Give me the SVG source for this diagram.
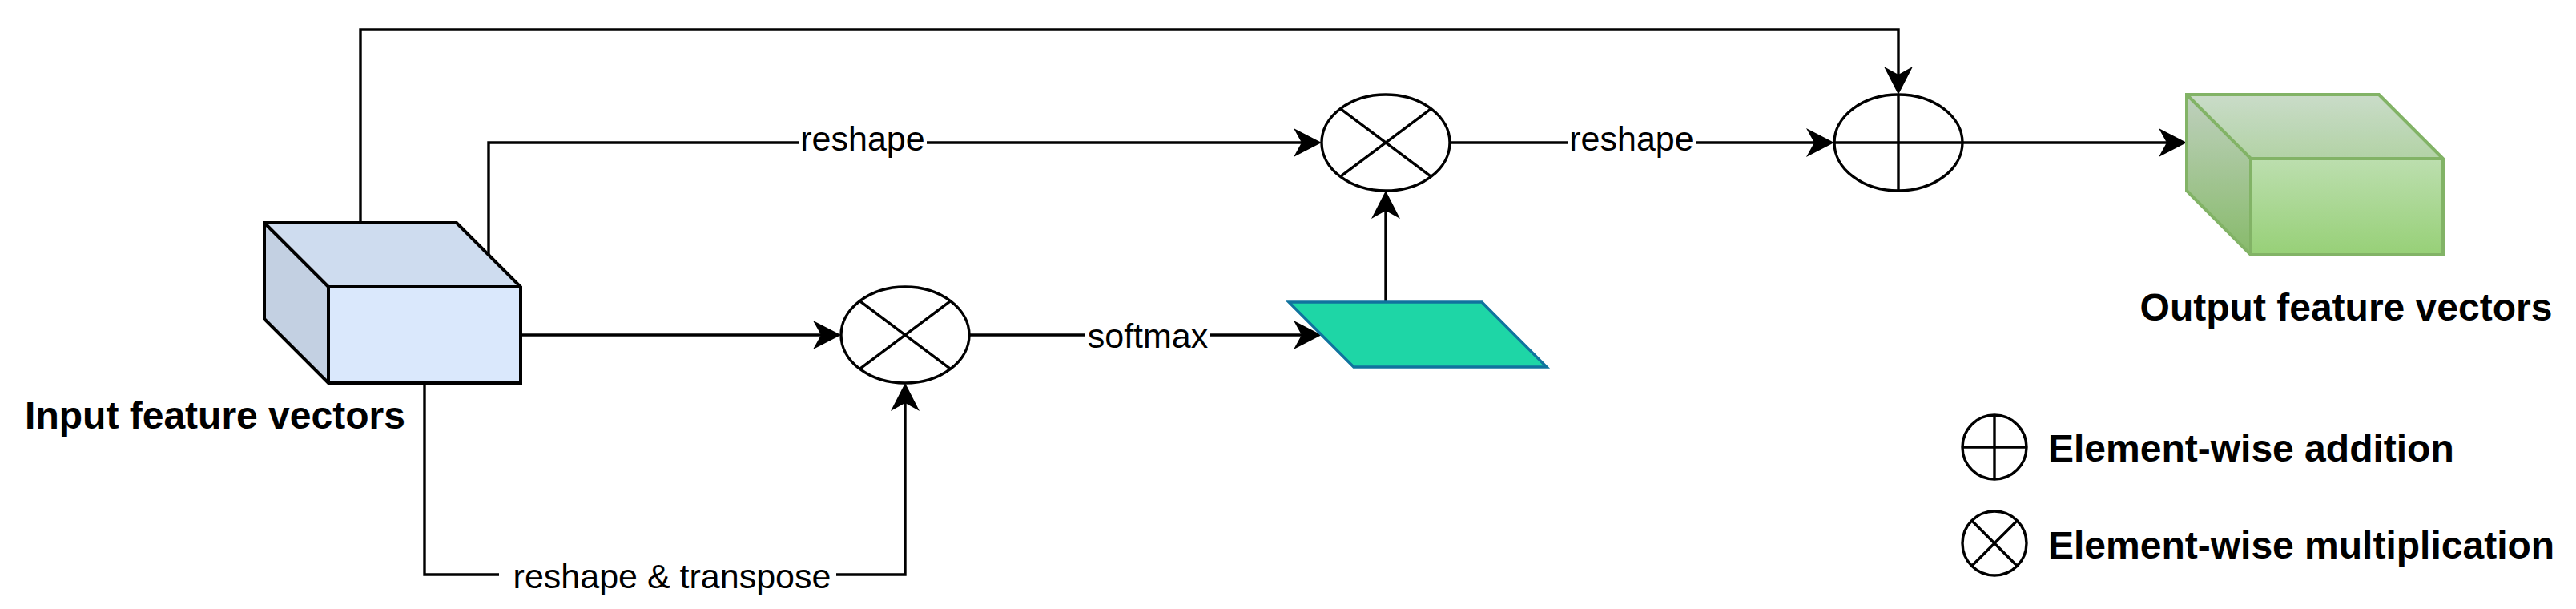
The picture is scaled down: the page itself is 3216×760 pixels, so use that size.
<svg xmlns="http://www.w3.org/2000/svg" width="3216" height="760" viewBox="0 0 3216 760">
<style>
.conn{fill:none;stroke:#000;stroke-width:3.4;marker-end:url(#arr)}
.op{fill:#fff;stroke:#000;stroke-width:3.4}
.opl{fill:none;stroke:#000;stroke-width:3.4}
.lbl{font-family:"Liberation Sans",Arial,Helvetica,sans-serif;font-size:43px;fill:#000;text-anchor:middle}
.bold{font-family:"Liberation Sans",Arial,Helvetica,sans-serif;font-size:48px;font-weight:bold;fill:#000}
.lbg{fill:#fff}
</style>
<defs>
<marker id="arr" markerUnits="userSpaceOnUse" markerWidth="60" markerHeight="60" refX="0" refY="0" orient="auto" overflow="visible">
<path d="M25,0 L-10,-18 L0,0 L-10,18 Z" fill="#000"/>
</marker>
<linearGradient id="grn" gradientUnits="userSpaceOnUse" x1="0" y1="118" x2="0" y2="318">
<stop offset="0" stop-color="#d5e8d4"/>
<stop offset="1" stop-color="#97d077"/>
</linearGradient>
</defs>
<rect width="3216" height="760" fill="#fff"/>

<g id="connectors">
<path class="conn" d="M450,278 V37 H2370 V93"/>
<path class="conn" d="M610,318 V178 H1625"/>
<path class="conn" d="M650,418 H1025"/>
<path class="conn" d="M530,478 V717 H1130 V503"/>
<path class="conn" d="M1210,418 H1625"/>
<path class="conn" d="M1730,377 V263"/>
<path class="conn" d="M1810,178 H2265"/>
<path class="conn" d="M2450,178 H2705"/>
<rect class="lbg" x="997" y="160" width="160" height="36"/>
<text class="lbl" x="1077" y="188">reshape</text>
<rect class="lbg" x="1355" y="400" width="156" height="40"/>
<text class="lbl" x="1433" y="434">softmax</text>
<rect class="lbg" x="1957" y="160" width="160" height="36"/>
<text class="lbl" x="2037" y="188">reshape</text>
<rect class="lbg" x="623" y="700" width="421" height="40"/>
<text class="lbl" x="839" y="734">reshape &amp; transpose</text>
</g>

<g id="input">
<path d="M330,278 H570 L650,358 V478 H410 L330,398 Z" fill="#dae8fc"/>
<path d="M330,278 H570 L650,358 H410 Z" fill="#000" fill-opacity="0.05"/>
<path d="M330,278 L410,358 V478 L330,398 Z" fill="#000" fill-opacity="0.1"/>
<path d="M330,278 H570 L650,358 V478 H410 L330,398 Z M330,278 L410,358 H650 M410,358 V478" fill="none" stroke="#000" stroke-width="4" stroke-linejoin="miter"/>
<text class="bold" x="268.5" y="535" text-anchor="middle">Input feature vectors</text>
</g>

<g id="mult1">
<ellipse class="op" cx="1130" cy="418" rx="80" ry="60"/>
<path class="opl" d="M1073.4,375.6 L1186.6,460.4 M1186.6,375.6 L1073.4,460.4"/>
</g>

<g id="attention">
<path d="M1609,377 H1850 L1931,458 H1690 Z" fill="#1ed6a6" stroke="#10739e" stroke-width="3.4"/>
</g>

<g id="mult2">
<ellipse class="op" cx="1730" cy="178" rx="80" ry="60"/>
<path class="opl" d="M1673.4,135.6 L1786.6,220.4 M1786.6,135.6 L1673.4,220.4"/>
</g>

<g id="add">
<ellipse class="op" cx="2370" cy="178" rx="80" ry="60"/>
<path class="opl" d="M2290,178 H2450 M2370,118 V238"/>
</g>

<g id="output">
<path d="M2730,118 H2970 L3050,198 V318 H2810 L2730,238 Z" fill="url(#grn)"/>
<path d="M2730,118 H2970 L3050,198 H2810 Z" fill="#000" fill-opacity="0.05"/>
<path d="M2730,118 L2810,198 V318 L2730,238 Z" fill="#000" fill-opacity="0.1"/>
<path d="M2730,118 H2970 L3050,198 V318 H2810 L2730,238 Z M2730,118 L2810,198 H3050 M2810,198 V318" fill="none" stroke="#82b366" stroke-width="4"/>
<text class="bold" x="2929" y="400" text-anchor="middle">Output feature vectors</text>
</g>

<g id="legend-add">
<circle class="op" cx="2490" cy="558" r="40"/>
<path class="opl" d="M2450,558 H2530 M2490,518 V598"/>
<text class="bold" x="2557" y="576">Element-wise addition</text>
</g>

<g id="legend-mult">
<circle class="op" cx="2490" cy="678" r="40"/>
<path class="opl" d="M2461.7,649.7 L2518.3,706.3 M2518.3,649.7 L2461.7,706.3"/>
<text class="bold" x="2557" y="697">Element-wise multiplication</text>
</g>
</svg>
